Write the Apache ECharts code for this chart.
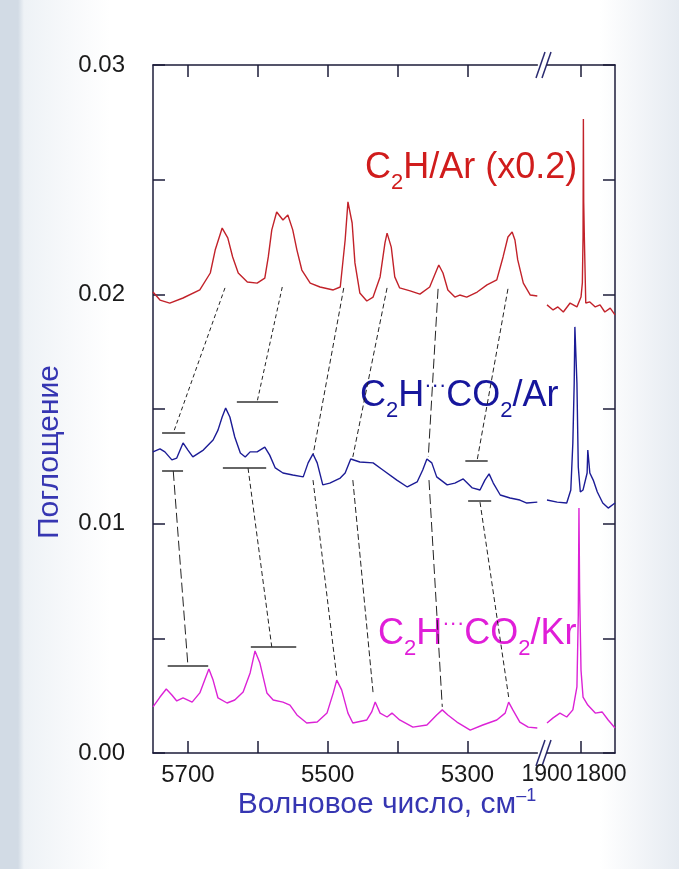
<!DOCTYPE html>
<html>
<head>
<meta charset="utf-8">
<script src="https://cdn.jsdelivr.net/npm/echarts@6.0.0/dist/echarts.min.js"></script>
<style>
  html, body { margin: 0; padding: 0; }
  body {
    background: linear-gradient(to right, #d2dbe5 0, #d2dbe5 18px, #eef2f6 24px, #ffffff 110px, #ffffff 600px, #e6ebf1 679px);
  }
  #chart { width: 679px; height: 869px; }
</style>
</head>
<body>
<div id="chart"></div>
<script>
// spectra, [wavenumber cm-1, absorbance]; left part 5750..5200, right part 1900..1800
let redLeft = [
  [5750, 0.02010], [5740, 0.01975], [5726, 0.01962], [5707, 0.01984], [5683, 0.02019],
  [5668, 0.02093], [5661, 0.02193], [5651, 0.02289], [5643, 0.02246], [5636, 0.02163],
  [5628, 0.02093], [5615, 0.02054], [5601, 0.02049], [5590, 0.02071], [5585, 0.02163],
  [5580, 0.02281], [5573, 0.02359], [5564, 0.02324], [5557, 0.02346], [5550, 0.02281],
  [5544, 0.02193], [5537, 0.02106], [5525, 0.02049], [5511, 0.02032], [5492, 0.02019],
  [5482, 0.02032], [5475, 0.02237], [5471, 0.02403], [5465, 0.02311], [5461, 0.02137],
  [5454, 0.02006], [5444, 0.01971], [5435, 0.01988], [5425, 0.02076], [5418, 0.02224],
  [5415, 0.02267], [5409, 0.02206], [5404, 0.02076], [5397, 0.02028], [5382, 0.02015],
  [5368, 0.02001], [5354, 0.02032], [5344, 0.02106], [5341, 0.02128], [5335, 0.02093],
  [5328, 0.02019], [5318, 0.01988], [5311, 0.01997], [5301, 0.01988], [5286, 0.02010],
  [5272, 0.02041], [5258, 0.02063], [5249, 0.02163], [5242, 0.02250], [5236, 0.02272],
  [5232, 0.02237], [5228, 0.02150], [5220, 0.02049], [5210, 0.01997], [5200, 0.01993]
];
let redRight = [
  [1900, 0.01954], [1891, 0.01932], [1884, 0.01945], [1876, 0.01923], [1866, 0.01962],
  [1856, 0.01945], [1850, 0.01988], [1848, 0.02050], [1847, 0.02250], [1846.5, 0.02765],
  [1846, 0.02400], [1845, 0.02237], [1843, 0.01962], [1837, 0.01967], [1829, 0.01945],
  [1822, 0.01954], [1815, 0.01923], [1807, 0.01940], [1800, 0.01910]
];
let blueLeft = [
  [5750, 0.01313], [5740, 0.01326], [5733, 0.01313], [5723, 0.01278], [5716, 0.01286],
  [5707, 0.01352], [5700, 0.01321], [5693, 0.01291], [5678, 0.01321], [5664, 0.01365],
  [5657, 0.01408], [5651, 0.01465], [5646, 0.01504], [5640, 0.01465], [5633, 0.01378],
  [5625, 0.01308], [5618, 0.01291], [5611, 0.01313], [5601, 0.01313], [5590, 0.01334],
  [5583, 0.01299], [5575, 0.01243], [5564, 0.01221], [5550, 0.01212], [5535, 0.01204],
  [5528, 0.01265], [5521, 0.01304], [5515, 0.01265], [5507, 0.01169], [5497, 0.01177],
  [5482, 0.01199], [5475, 0.01221], [5467, 0.01282], [5454, 0.01269], [5435, 0.01265],
  [5421, 0.01234], [5401, 0.01190], [5386, 0.01160], [5372, 0.01182], [5364, 0.01234],
  [5358, 0.01282], [5351, 0.01265], [5344, 0.01204], [5329, 0.01169], [5318, 0.01177],
  [5306, 0.01195], [5293, 0.01156], [5282, 0.01147], [5275, 0.01190], [5269, 0.01217],
  [5263, 0.01177], [5253, 0.01125], [5239, 0.01112], [5225, 0.01103], [5215, 0.01090],
  [5200, 0.01094]
];
let blueRight = [
  [1900, 0.01103], [1885, 0.01094], [1871, 0.01090], [1865, 0.01147], [1862, 0.01352],
  [1860, 0.01613], [1859, 0.01858], [1856, 0.01613], [1854, 0.01247], [1851, 0.01138],
  [1847, 0.01147], [1841, 0.01221], [1840, 0.01321], [1837, 0.01221], [1832, 0.01190],
  [1826, 0.01138], [1818, 0.01090], [1810, 0.01068], [1800, 0.01090]
];
let pinkLeft = [
  [5750, 0.00201], [5740, 0.00244], [5731, 0.00279], [5723, 0.00253], [5716, 0.00227],
  [5707, 0.00240], [5694, 0.00222], [5683, 0.00262], [5676, 0.00318], [5670, 0.00366],
  [5664, 0.00318], [5657, 0.00240], [5644, 0.00218], [5633, 0.00231], [5621, 0.00266],
  [5611, 0.00349], [5604, 0.00445], [5597, 0.00392], [5587, 0.00262], [5578, 0.00231],
  [5564, 0.00222], [5554, 0.00209], [5544, 0.00166], [5530, 0.00131], [5515, 0.00135],
  [5501, 0.00174], [5492, 0.00262], [5487, 0.00318], [5480, 0.00275], [5471, 0.00174],
  [5464, 0.00131], [5444, 0.00144], [5437, 0.00179], [5432, 0.00222], [5425, 0.00174],
  [5415, 0.00157], [5408, 0.00174], [5397, 0.00144], [5378, 0.00113], [5358, 0.00122],
  [5344, 0.00166], [5336, 0.00188], [5328, 0.00166], [5315, 0.00135], [5296, 0.00100],
  [5278, 0.00122], [5258, 0.00144], [5246, 0.00174], [5241, 0.00222], [5235, 0.00188],
  [5225, 0.00135], [5213, 0.00113], [5200, 0.00109]
];
let pinkRight = [
  [1900, 0.00131], [1891, 0.00153], [1881, 0.00174], [1871, 0.00157], [1862, 0.00188],
  [1856, 0.00288], [1854, 0.00600], [1853, 0.01068], [1852, 0.00700], [1850, 0.00362],
  [1847, 0.00244], [1840, 0.00209], [1829, 0.00174], [1819, 0.00179], [1810, 0.00144],
  [1800, 0.00109]
];

// peak correlation lines: [[wn1, a1], [wn2, a2]]
let upperLinks = [
  [[5647, 0.02028], [5721, 0.01395]],
  [[5565, 0.02032], [5601, 0.01531]],
  [[5477, 0.02028], [5521, 0.01299]],
  [[5415, 0.02028], [5464, 0.01291]],
  [[5342, 0.02024], [5356, 0.01291]],
  [[5242, 0.02024], [5286, 0.01278]]
];
let lowerLinks = [
  [[5721, 0.01230], [5700, 0.00379]],
  [[5614, 0.01243], [5580, 0.00462]],
  [[5521, 0.01190], [5487, 0.00331]],
  [[5464, 0.01190], [5435, 0.00262]],
  [[5355, 0.01190], [5336, 0.00201]],
  [[5282, 0.01094], [5241, 0.00244]]
];
let dashes = [[4, 3], [4, 3], [5, 3], [5, 3], [10, 4], [5, 3]];
let lowerDashes = [[10, 4], [5, 3], [5, 3], [6, 3], [10, 4], [5, 3]];
// horizontal level bars
let bars = [
  [[5737, 0.01395], [5704, 0.01395]],
  [[5630, 0.01531], [5571, 0.01531]],
  [[5303, 0.01273], [5271, 0.01273]],
  [[5737, 0.01230], [5707, 0.01230]],
  [[5650, 0.01243], [5588, 0.01243]],
  [[5299, 0.01099], [5266, 0.01099]],
  [[5729, 0.00379], [5671, 0.00379]],
  [[5610, 0.00462], [5545, 0.00462]]
];

let leftTicks = [5700, 5600, 5500, 5400, 5300];
let leftLabels = [5700, 5500, 5300];
let rightTicks = [1850];
let rightLabels = [1900, 1800];
let yLabels = [0, 0.01, 0.02, 0.03];

let axisColor = '#1c1c3a';
let fontFamily = '"Liberation Sans", Arial, sans-serif';

let chart = echarts.init(document.getElementById('chart'));

function xAxis(grid, min, max, ticks, labels, pos, size) {
  return {
    type: 'value', gridIndex: grid, min: min, max: max, inverse: true, position: pos,
    axisLine: { onZero: false, lineStyle: { color: axisColor, width: 1.5 } },
    axisTick: { inside: true, length: 12, customValues: ticks, lineStyle: { color: axisColor, width: 1.5 } },
    axisLabel: {
      show: pos === 'bottom', customValues: labels, margin: 10,
      showMinLabel: true, showMaxLabel: true, hideOverlap: false,
      color: '#1a1a1a', fontSize: size, fontFamily: fontFamily,
      formatter: v => (v === 1800 ? '{r|1800}' : String(v)),
      rich: { r: { fontSize: size, fontFamily: fontFamily, color: '#1a1a1a', padding: [0, 28, 0, 0] } }
    },
    splitLine: { show: false }
  };
}

function yAxis(grid, pos) {
  return {
    type: 'value', gridIndex: grid, min: 0, max: 0.03, interval: 0.005, position: pos,
    axisLine: { show: true, lineStyle: { color: axisColor, width: 1.5 } },
    axisTick: { inside: true, length: 12, lineStyle: { color: axisColor, width: 1.5 } },
    axisLabel: {
      show: pos === 'left', customValues: yLabels, margin: 28,
      color: '#1a1a1a', fontSize: 24, fontFamily: fontFamily,
      formatter: v => v.toFixed(2)
    },
    splitLine: { show: false }
  };
}

function spectrum(data, color, xi, yi) {
  return {
    type: 'line', data: data, xAxisIndex: xi, yAxisIndex: yi,
    showSymbol: false, symbol: 'none', silent: true,
    lineStyle: { color: color, width: 1.4 }
  };
}

function links(segs, types) {
  return segs.map((s, i) => ({
    type: 'lines', coordinateSystem: 'cartesian2d', xAxisIndex: 0, yAxisIndex: 0, silent: true,
    data: [{ coords: s }],
    lineStyle: { color: '#222', width: 1, type: types[i], opacity: 1 }
  }));
}

// rich styles for the series captions: a = main, s = subscript, d = raised dots
function sub(color) {
  return {
    a: { fontSize: 36, fontFamily: fontFamily, fill: color },
    s: { fontSize: 22, fontFamily: fontFamily, fill: color, padding: [30, 0, 0, 0] },
    d: { fontSize: 22, fontFamily: fontFamily, fill: color, padding: [0, 0, 20, 0] }
  };
}

function breakMark(x, y) {
  return [0, 6].map(dx => ({
    type: 'line', silent: true,
    shape: { x1: x + dx, y1: y + 13, x2: x + dx + 9, y2: y - 13 },
    style: { stroke: '#2a2a70', lineWidth: 1.5 }
  }));
}

let option = {
  animation: false,
  grid: [
    { left: 153, top: 65, width: 384.3, height: 688 },
    { left: 547, top: 65, width: 68, height: 688 }
  ],
  xAxis: [
    xAxis(0, 5200, 5750, leftTicks, leftLabels, 'bottom', 24),
    xAxis(1, 1800, 1900, rightTicks, rightLabels, 'bottom', 23),
    xAxis(0, 5200, 5750, leftTicks, [], 'top', 24),
    xAxis(1, 1800, 1900, rightTicks, [], 'top', 23)
  ],
  yAxis: [yAxis(0, 'left'), yAxis(1, 'right')],
  series: [
    spectrum(redLeft, '#c2222a', 0, 0),
    spectrum(blueLeft, '#1c1c96', 0, 0),
    spectrum(pinkLeft, '#dc22d6', 0, 0),
    spectrum(redRight, '#c2222a', 1, 1),
    spectrum(blueRight, '#1c1c96', 1, 1),
    spectrum(pinkRight, '#dc22d6', 1, 1)
  ]
    .concat(links(upperLinks, dashes))
    .concat(links(lowerLinks, lowerDashes))
    .concat(links(bars, bars.map(() => 'solid')).map(s => { s.lineStyle.width = 1.5; s.lineStyle.color = '#333'; return s; })),
  graphic: [
    {
      type: 'text', left: 365, top: 150, silent: true,
      style: { text: '{a|C}{s|2}{a|H/Ar (x0.2)}', rich: sub('#d01c1c') }
    },
    {
      type: 'text', left: 360, top: 375, silent: true,
      style: { text: '{a|C}{s|2}{a|H}{d|···}{a|CO}{s|2}{a|/Ar}', rich: sub('#16169c') }
    },
    {
      type: 'text', left: 376, top: 608, silent: true,
      style: {
        text: '{a|C}{s|2}{a|H}{d|···}{a|CO}{s|2}{a|/Kr}', rich: sub('#e01ed8'),
        backgroundColor: '#fff', padding: [0, 2, 0, 2]
      }
    },
    {
      type: 'text', x: 50, y: 452, rotation: Math.PI / 2, silent: true,
      style: {
        text: 'Поглощение', fill: '#3636b2', fontSize: 30, fontFamily: fontFamily,
        align: 'center', verticalAlign: 'middle'
      }
    },
    {
      type: 'text', x: 387, y: 805, silent: true,
      style: {
        text: '{a|Волновое число, см}{p|–1}',
        align: 'center', verticalAlign: 'middle',
        rich: {
          a: { fontSize: 30, fontFamily: fontFamily, fill: '#3636b2' },
          p: { fontSize: 18, fontFamily: fontFamily, fill: '#3636b2', padding: [0, 0, 18, 0] }
        }
      }
    }
  ].concat(breakMark(536, 65)).concat(breakMark(536, 753))
};

chart.setOption(option);
</script>
</body>
</html>
